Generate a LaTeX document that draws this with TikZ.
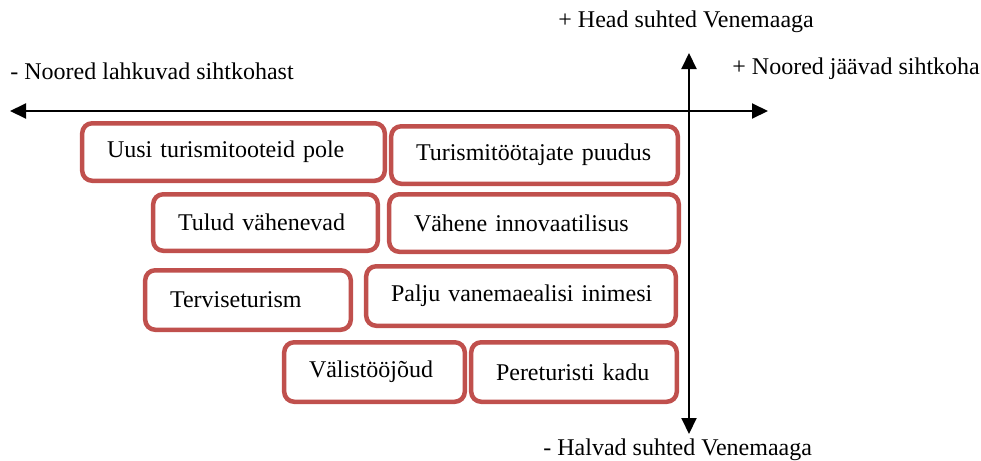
\documentclass[tikz,border=0pt]{standalone}
\usepackage{fontspec}
\setmainfont{Liberation Serif}
\usepackage{tikz}
\usetikzlibrary{arrows.meta}
\definecolor{factor-red}{HTML}{C0504D}
\tikzset{
  factor-box/.style={draw=factor-red, fill=white, line width=2.25pt, rounded corners=5pt,
    align=left, inner xsep=12.4pt, inner ysep=0pt, font=\fontsize{12}{14}\selectfont,
    execute at begin node={\hyphenpenalty=10000\exhyphenpenalty=10000\relax}},
  factor-axis/.style={line width=1pt,
    {Triangle[length=8pt,width=7.5pt]}-{Triangle[length=8pt,width=7.5pt]}},
  factor-label/.style={anchor=base west, inner sep=0pt, font=\fontsize{12}{14}\selectfont}
}

\begin{document}
\begin{tikzpicture}[x=0.5pt, y=-0.5pt]
  \useasboundingbox (0,0) rectangle (981,461);
  % axes
  \coordinate (axis-west) at (10,111);
  \coordinate (axis-east) at (768,111);
  \coordinate (axis-north) at (689,53);
  \coordinate (axis-south) at (689,434);
  \draw[factor-axis] (axis-west) -- (axis-east);
  \draw[factor-axis] (axis-south) -- (axis-north);
  \node[factor-label] (label-north) at (558,27) {+ Head suhted Venemaaga};
  \node[factor-label] (label-west) at (10,79) {- Noored lahkuvad sihtkohast};
  \node[factor-label] (label-east) at (732,74) {+ Noored jäävad sihtkoha};
  \node[factor-label] (label-south) at (543,455) {- Halvad suhted Venemaaga};
  % factors
  \node[factor-box, text width=126.5pt, minimum height=28.75pt] (tooted) at (233.5,152) {Uusi turismitooteid pole};
  \node[factor-box, text width=118.5pt, minimum height=28.75pt] (tootajad) at (534.5,155) {Turismitöötajate puudus};
  \node[factor-box, text width=87.5pt, minimum height=28.25pt] (tulud) at (265.5,222.5) {Tulud vähenevad};
  \node[factor-box, text width=120pt, minimum height=28.75pt] (innovatsioon) at (534,223) {Vähene innovaatilisus};
  \node[factor-box, text width=78pt, minimum height=29.75pt] (tervis) at (248,300) {Terviseturism};
  \node[factor-box, text width=130pt, minimum height=29.75pt] (vanemad) at (521,296) {\mbox{Palju vanemaealisi inimesi}};
  \node[factor-box, text width=65.5pt, minimum height=29.75pt] (toojoud) at (374.5,372) {Välistööjõud};
  \node[factor-box, text width=78pt, minimum height=29.75pt] (pereturist) at (574,372) {Pereturisti kadu};
\end{tikzpicture}
\end{document}
